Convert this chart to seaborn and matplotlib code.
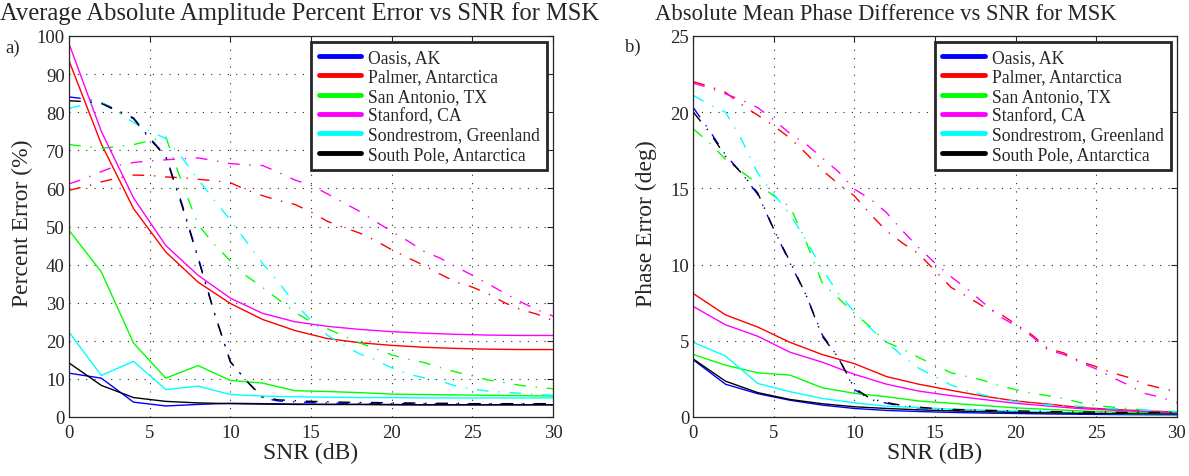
import matplotlib
matplotlib.use("Agg")
import matplotlib.pyplot as plt
import seaborn as sns
from matplotlib.lines import Line2D

stations = ["Oasis, AK", "Palmer, Antarctica", "San Antonio, TX", "Stanford, CA",
            "Sondrestrom, Greenland", "South Pole, Antarctica"]
colors = ["#0000ff", "#ff0000", "#00ff00", "#ff00ff", "#00ffff", "#000000"]

snr_coarse = [0, 2, 4, 6, 8, 10, 12, 14, 16, 18, 20, 22, 24, 26, 28, 30]
snr_fine = [0, 1, 2, 3, 4, 5, 6, 7, 8, 9, 10, 11, 12, 13, 14, 15,
            16, 17, 18, 19, 20, 21, 22, 23, 24, 25, 26, 27, 28, 29, 30]

# a) amplitude error, solid curves
amp_oasis = [11.5, 10.2, 3.9, 2.9, 3.3, 3.6, 3.5, 3.4, 3.3, 3.3, 3.3, 3.2, 3.2, 3.2, 3.2, 3.2]
amp_palmer = [93.5, 71.7, 54.7, 43.3, 35.4, 29.8, 25.6, 22.7, 20.6, 19.5, 18.8, 18.3, 18.0, 17.8, 17.7, 17.7]
amp_sanantonio = [49, 38.1, 19.4, 10.2, 13.5, 9.6, 8.9, 6.9, 6.7, 6.4, 6.0, 5.9, 5.8, 5.7, 5.6, 5.5]
amp_stanford = [98, 75, 57.5, 45, 37.2, 31.2, 27.2, 25, 23.8, 23, 22.4, 22, 21.7, 21.5, 21.4, 21.4]
amp_sondrestrom = [22.3, 10.9, 14.6, 7.2, 8.1, 5.9, 5.5, 5.3, 5.2, 5.1, 5.1, 5.0, 5.0, 5.0, 5.0, 5.0]
amp_southpole = [14.2, 8.3, 5.1, 4.1, 3.7, 3.5, 3.4, 3.3, 3.3, 3.3, 3.2, 3.2, 3.2, 3.2, 3.2, 3.2]

# a) amplitude error, dash-dot curves
amp2_oasis = [84, 83.5, 82.5, 80.5, 78.5, 73.3, 68.5, 56, 42, 27.5, 14.5, 9.5, 5, 4.2, 4, 3.8,
              3.7, 3.6, 3.6, 3.5, 3.5, 3.5, 3.5, 3.4, 3.4, 3.4, 3.4, 3.4, 3.4, 3.4, 3.4]
amp2_palmer = [59.5, 60.5, 61.7, 62.7, 63.5, 63.4, 63, 62.8, 62.4, 62, 61.5, 59.6, 58.1, 56.8, 55.8, 53.8,
               51.4, 49.8, 48.3, 46.3, 43.9, 41.8, 39.8, 37.5, 35.4, 34.1, 32.3, 30, 28.2, 27, 25.3]
amp2_sanantonio = [71.5, 71, 70.5, 71, 71.5, 72.5, 73.5, 61.5, 50.5, 45.3, 41, 37, 34, 30.8, 27.5, 25,
                   23.2, 21.3, 19.5, 17.9, 16.3, 15.2, 14.3, 13, 11.8, 10.8, 9.7, 9, 8.3, 7.8, 7.4]
amp2_stanford = [61.2, 62.6, 64.4, 66, 66.8, 67.2, 67.5, 67.8, 68, 67.3, 66.5, 66.2, 66, 64.2, 62.2, 60.8,
                 58.6, 56.3, 54, 51.3, 48.7, 46.2, 43.5, 41.7, 39.4, 37.2, 34.9, 32.5, 30.2, 28.2, 26.5]
amp2_sondrestrom = [81, 82, 82.5, 80, 77.3, 75, 73.1, 68.1, 62.4, 56.9, 51.7, 46, 40.3, 35.3, 29.8, 25.4,
                    21.5, 18.9, 16.6, 15, 12.9, 11.3, 10.3, 9.5, 8.1, 7.3, 6.8, 6.5, 6.2, 5.9, 5.7]
amp2_southpole = [83, 82.8, 82.3, 80.3, 78.3, 73, 68.3, 55.5, 41.6, 27.4, 14.5, 9.5, 5.2, 4.5, 4.3, 4.1,
                  4, 3.9, 3.8, 3.8, 3.7, 3.7, 3.6, 3.6, 3.6, 3.5, 3.5, 3.5, 3.5, 3.5, 3.5]

# b) phase error, solid curves
ph_oasis = [3.75, 2.15, 1.53, 1.1, 0.78, 0.56, 0.43, 0.36, 0.3, 0.26, 0.23, 0.2, 0.18, 0.16, 0.15, 0.14]
ph_palmer = [8.1, 6.7, 5.9, 4.9, 4.1, 3.5, 2.65, 2.15, 1.75, 1.37, 1.05, 0.85, 0.62, 0.5, 0.4, 0.32]
ph_sanantonio = [4.1, 3.4, 2.9, 2.75, 1.92, 1.55, 1.33, 1.05, 0.9, 0.75, 0.6, 0.5, 0.4, 0.33, 0.28, 0.23]
ph_stanford = [7.25, 6.05, 5.3, 4.25, 3.6, 2.8, 2.15, 1.7, 1.4, 1.15, 0.9, 0.72, 0.55, 0.45, 0.35, 0.28]
ph_sondrestrom = [4.9, 4.0, 2.2, 1.66, 1.22, 0.93, 0.71, 0.62, 0.52, 0.45, 0.38, 0.32, 0.27, 0.22, 0.18, 0.16]
ph_southpole = [3.8, 2.35, 1.6, 1.15, 0.87, 0.67, 0.56, 0.47, 0.4, 0.35, 0.3, 0.27, 0.24, 0.22, 0.2, 0.19]

# b) phase error, dash-dot curves
ph2_oasis = [20.3, 18.8, 17.2, 16.0, 14.6, 12.3, 10.1, 8.0, 5.4, 3.9, 1.8, 1.15, 0.9, 0.7, 0.6, 0.5,
             0.45, 0.42, 0.4, 0.38, 0.36, 0.34, 0.32, 0.3, 0.29, 0.28, 0.27, 0.26, 0.25, 0.25, 0.24]
ph2_palmer = [22, 21.7, 21.3, 20.5, 19.8, 19.1, 18.3, 17.3, 16.2, 15.3, 14.5, 13.3, 12.2, 11.4, 10.7, 9.6,
              8.5, 7.9, 7.25, 6.8, 6.1, 5.4, 4.5, 4.2, 3.65, 3.3, 2.9, 2.6, 2.15, 1.9, 1.65]
ph2_sanantonio = [18.9, 18.0, 16.9, 16.1, 15.3, 14.5, 13.8, 11.5, 8.8, 7.8, 6.8, 5.9, 4.9, 4.45, 3.9, 3.4,
                  2.9, 2.65, 2.4, 2.05, 1.8, 1.55, 1.4, 1.2, 0.95, 0.75, 0.65, 0.55, 0.45, 0.4, 0.35]
ph2_stanford = [21.9, 21.6, 21.2, 20.8, 20.3, 19.5, 18.6, 17.9, 17.0, 16.1, 14.95, 14.3, 13.4, 12.2, 11.1, 10.1,
                9.2, 8.4, 7.5, 6.6, 6.0, 5.3, 4.4, 4.1, 3.6, 3.15, 2.6, 2.1, 1.55, 1.3, 0.93]
ph2_sondrestrom = [21.1, 20.5, 20.0, 18.2, 16.0, 14.6, 13.3, 11.6, 9.7, 8.1, 6.9, 5.8, 4.9, 4.0, 3.2, 2.65,
                   2.1, 1.7, 1.45, 1.22, 1.0, 0.9, 0.8, 0.75, 0.7, 0.6, 0.55, 0.5, 0.45, 0.4, 0.35]
ph2_southpole = [20.0, 18.7, 17.1, 16.0, 14.7, 12.3, 10.2, 8.0, 5.3, 3.9, 1.9, 1.2, 0.95, 0.75, 0.65, 0.55,
                 0.5, 0.47, 0.44, 0.42, 0.4, 0.38, 0.36, 0.34, 0.33, 0.32, 0.31, 0.3, 0.3, 0.29, 0.29]

sns.set_style("white")
plt.rcParams["font.family"] = ["Liberation Serif", "DejaVu Serif"]
plt.rcParams["lines.dashdot_pattern"] = [8.5, 7, 1, 7]
plt.rcParams["xtick.direction"] = "in"
plt.rcParams["ytick.direction"] = "in"
plt.rcParams["text.color"] = "#262626"

W, H = 1189, 477
fig = plt.figure(figsize=(W / 100, H / 100), dpi=100)
ax1 = fig.add_axes([69 / W, 1 - 418 / H, (553 - 69) / W, (418 - 37) / H])
ax2 = fig.add_axes([693.3 / W, 1 - 418 / H, (1176.7 - 693.3) / W, (418 - 37) / H])


def draw(ax, solid, dashdot, ymax, ystep, ylabel):
    for col, ys, yd in zip(colors, solid, dashdot):
        sns.lineplot(x=snr_coarse, y=ys, color=col, lw=1.0, ax=ax)
        sns.lineplot(x=snr_fine, y=yd, color=col, lw=1.0, ls="-.", ax=ax)
    ax.set_xlim(0, 30)
    ax.set_ylim(0, ymax)
    ax.set_xticks(range(0, 31, 5))
    ax.set_yticks(range(0, ymax + 1, ystep))
    ax.tick_params(labelsize=13.5, top=True, right=True, length=4, width=0.8,
                   color="0.15", labelcolor="#262626")
    ax.tick_params(axis="x", pad=5)
    ax.tick_params(axis="y", pad=3)
    ax.grid(True, color="0.15", ls=(0, (1, 6.5)), lw=0.8)
    for s in ax.spines.values():
        s.set_color("0.15")
        s.set_linewidth(0.9)
    ax.set_xlabel("SNR (dB)", fontsize=17, labelpad=1)
    ax.set_ylabel(ylabel, fontsize=17)
    ax.yaxis.set_label_coords(-47 / 484, 0.51)
    ax.yaxis.label.set_verticalalignment("center")
    handles = [Line2D([0], [0], color=c, lw=3.5) for c in colors]
    leg = ax.legend(handles, stations, loc="upper right", fontsize=12.7, frameon=True,
                    fancybox=False, framealpha=1, edgecolor="0.15", handlelength=2.4,
                    handletextpad=0.4, labelspacing=0.13, borderpad=0.4, borderaxespad=0.35)
    leg.get_frame().set_linewidth(2)


draw(ax1,
     [amp_oasis, amp_palmer, amp_sanantonio, amp_stanford, amp_sondrestrom, amp_southpole],
     [amp2_oasis, amp2_palmer, amp2_sanantonio, amp2_stanford, amp2_sondrestrom, amp2_southpole],
     100, 10, "Percent Error (%)")
draw(ax2,
     [ph_oasis, ph_palmer, ph_sanantonio, ph_stanford, ph_sondrestrom, ph_southpole],
     [ph2_oasis, ph2_palmer, ph2_sanantonio, ph2_stanford, ph2_sondrestrom, ph2_southpole],
     25, 5, "Phase Error (deg)")

fig.text(300 / W, 1 - 14 / H, "Average Absolute Amplitude Percent Error vs SNR for MSK",
         fontsize=17.7, ha="center", va="center")
fig.text(886 / W, 1 - 14 / H, "Absolute Mean Phase Difference vs SNR for MSK",
         fontsize=16.3, ha="center", va="center")
fig.text(5 / W, 1 - 48 / H, "a)", fontsize=13.5, va="center")
fig.text(625 / W, 1 - 47 / H, "b)", fontsize=13.5, va="center")

fig.savefig("out.png", dpi=100)
